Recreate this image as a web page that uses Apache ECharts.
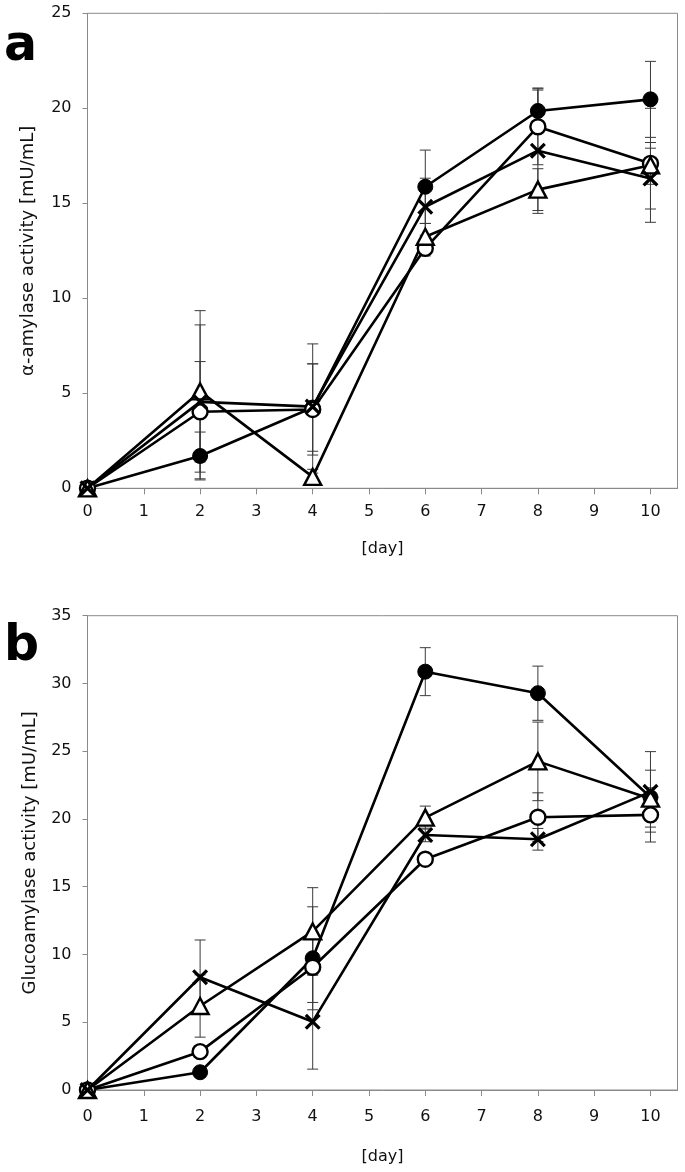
<!DOCTYPE html>
<html>
<head>
<meta charset="utf-8">
<script src="https://cdn.jsdelivr.net/npm/echarts@6/dist/echarts.min.js"></script>
<style>
html,body{margin:0;padding:0;background:#fff;}
#c{width:685px;height:1172px;}
</style>
</head>
<body>
<div id="c"></div>
<script>
// ---- data ----
const days = [0, 2, 4, 6, 8, 10];
const xTicks = [0, 1, 2, 3, 4, 5, 6, 7, 8, 9, 10];

// panel a: alpha-amylase activity [mU/mL]
const aFilled = [0, 1.7, 4.25, 15.87, 19.86, 20.47];
const aOpen   = [0, 4.03, 4.15, 12.63, 19.03, 17.1];
const aTri    = [0, 5.1, 0.6, 13.24, 15.72, 17.0];
const aCross  = [0, 4.55, 4.3, 14.82, 17.77, 16.3];
const aFilledErr = [0, 1.26, 2.3, 1.93, 1.1, 2.0];
const aOpenErr   = [0, 2.64, 2.4, 0.4, 2.0, 1.1];
const aTriErr    = [0, 4.25, 0.2, 0.7, 1.1, 3.0];
const aCrossErr  = [0, 4.05, 3.3, 1.5, 3.3, 1.6];

// panel b: glucoamylase activity [mU/mL]
const bFilled = [0, 1.31, 9.72, 30.87, 29.28, 21.6];
const bOpen   = [0, 2.83, 9.06, 17.03, 20.13, 20.3];
const bTri    = [0, 6.2, 11.7, 20.1, 24.25, 21.5];
const bCross  = [0, 8.32, 5.04, 18.82, 18.5, 22.0];
const bFilledErr = [0, 0.2, 3.8, 1.77, 2.0, 0.3];
const bOpenErr   = [0, 0.2, 2.6, 0.4, 1.8, 2.0];
const bTriErr    = [0, 2.3, 3.23, 0.85, 2.9, 2.1];
const bCrossErr  = [0, 2.75, 3.5, 0.5, 0.8, 2.97];

// ---- styling helpers ----
const FONT = 'DejaVu Sans';
const AXIS_GRAY = '#8a8a8a';
const crossPath = 'path://M0,2 L2,0 L7,5 L12,0 L14,2 L9,7 L14,12 L12,14 L7,9 L2,14 L0,12 L5,7 Z';

function pts(vals) { return days.map((d, i) => [d, vals[i]]); }
function errPts(vals, errs) {
  const out = [];
  days.forEach((d, i) => { if (errs[i] > 0) out.push([d, vals[i] - errs[i], vals[i] + errs[i]]); });
  return out;
}

function errSeries(vals, errs, gi) {
  return {
    type: 'custom', xAxisIndex: gi, yAxisIndex: gi, z: 1, silent: true,
    encode: { x: 0, y: [1, 2] },
    data: errPts(vals, errs),
    renderItem: function (params, api) {
      const x = api.value(0);
      const p1 = api.coord([x, api.value(2)]);
      const p2 = api.coord([x, api.value(1)]);
      const hw = 5.5;
      const st = { stroke: '#3a3a3a', lineWidth: 1 };
      return {
        type: 'group',
        children: [
          { type: 'line', shape: { x1: p1[0], y1: p1[1], x2: p2[0], y2: p2[1] }, style: st },
          { type: 'line', shape: { x1: p1[0] - hw, y1: p1[1], x2: p1[0] + hw, y2: p1[1] }, style: st },
          { type: 'line', shape: { x1: p2[0] - hw, y1: p2[1], x2: p2[0] + hw, y2: p2[1] }, style: st }
        ]
      };
    }
  };
}

function lineSeries(vals, kind, gi) {
  const s = {
    type: 'line', xAxisIndex: gi, yAxisIndex: gi, z: 3, silent: true,
    data: pts(vals),
    lineStyle: { color: '#000', width: 2.6 },
    showAllSymbol: true
  };
  if (kind === 'filled') {
    s.symbol = 'circle'; s.symbolSize = 15;
    s.itemStyle = { color: '#000', borderColor: '#000', borderWidth: 1 };
  } else if (kind === 'open') {
    s.symbol = 'circle'; s.symbolSize = 15;
    s.itemStyle = { color: '#fff', borderColor: '#000', borderWidth: 2.4 };
  } else if (kind === 'tri') {
    s.symbol = 'triangle'; s.symbolSize = [17, 16];
    s.itemStyle = { color: '#fff', borderColor: '#000', borderWidth: 2.4 };
  } else {
    s.symbol = crossPath; s.symbolSize = 16;
    s.itemStyle = { color: '#000', borderWidth: 0 };
  }
  return s;
}

function xAxisCfg(gi, labelMargin, nameGap) {
  return {
    type: 'value', gridIndex: gi, min: 0, max: 10.48, interval: 1,
    name: '[day]', nameLocation: 'middle', nameGap: nameGap,
    nameTextStyle: { fontFamily: FONT, fontSize: 16, color: '#111' },
    axisLine: { show: true, lineStyle: { color: AXIS_GRAY, width: 1 } },
    axisTick: { show: true, inside: false, length: 6, lineStyle: { color: AXIS_GRAY }, customValues: xTicks },
    axisLabel: { fontFamily: FONT, fontSize: 16, color: '#111', margin: labelMargin, customValues: xTicks },
    splitLine: { show: false }
  };
}

function yAxisCfg(gi, max, name, nameGap) {
  return {
    type: 'value', gridIndex: gi, min: 0, max: max, interval: 5,
    name: name, nameLocation: 'middle', nameGap: nameGap, nameRotate: 90,
    nameTextStyle: { fontFamily: FONT, fontSize: 18, color: '#111' },
    axisLine: { show: true, lineStyle: { color: AXIS_GRAY, width: 1 } },
    axisTick: { show: true, inside: false, length: 5, lineStyle: { color: AXIS_GRAY } },
    axisLabel: { fontFamily: FONT, fontSize: 16, color: '#111', margin: 16 },
    splitLine: { show: false }
  };
}

const chart = echarts.init(document.getElementById('c'), null, { renderer: 'canvas' });
chart.setOption({
  animation: false,
  backgroundColor: '#fff',
  grid: [
    { left: 87.5, top: 13.3, width: 590, height: 475, show: true, borderColor: AXIS_GRAY, borderWidth: 1, backgroundColor: 'transparent' },
    { left: 87.5, top: 615.7, width: 590, height: 474.3, show: true, borderColor: AXIS_GRAY, borderWidth: 1, backgroundColor: 'transparent' }
  ],
  xAxis: [xAxisCfg(0, 16, 53), xAxisCfg(1, 19, 59)],
  yAxis: [
    yAxisCfg(0, 25, 'α-amylase activity [mU/mL]', 50),
    yAxisCfg(1, 35, 'Glucoamylase activity [mU/mL]', 48)
  ],
  graphic: [
    { type: 'text', left: 4, top: 23, style: { text: 'a', fontFamily: FONT, fontWeight: 'bold', fontSize: 49, fill: '#000' } },
    { type: 'text', left: 4, top: 623, style: { text: 'b', fontFamily: FONT, fontWeight: 'bold', fontSize: 49, fill: '#000' } }
  ],
  series: [
    errSeries(aFilled, aFilledErr, 0),
    errSeries(aOpen, aOpenErr, 0),
    errSeries(aTri, aTriErr, 0),
    errSeries(aCross, aCrossErr, 0),
    lineSeries(aFilled, 'filled', 0),
    lineSeries(aOpen, 'open', 0),
    lineSeries(aTri, 'tri', 0),
    lineSeries(aCross, 'cross', 0),
    errSeries(bFilled, bFilledErr, 1),
    errSeries(bOpen, bOpenErr, 1),
    errSeries(bTri, bTriErr, 1),
    errSeries(bCross, bCrossErr, 1),
    lineSeries(bFilled, 'filled', 1),
    lineSeries(bOpen, 'open', 1),
    lineSeries(bTri, 'tri', 1),
    lineSeries(bCross, 'cross', 1)
  ]
});
</script>
</body>
</html>
